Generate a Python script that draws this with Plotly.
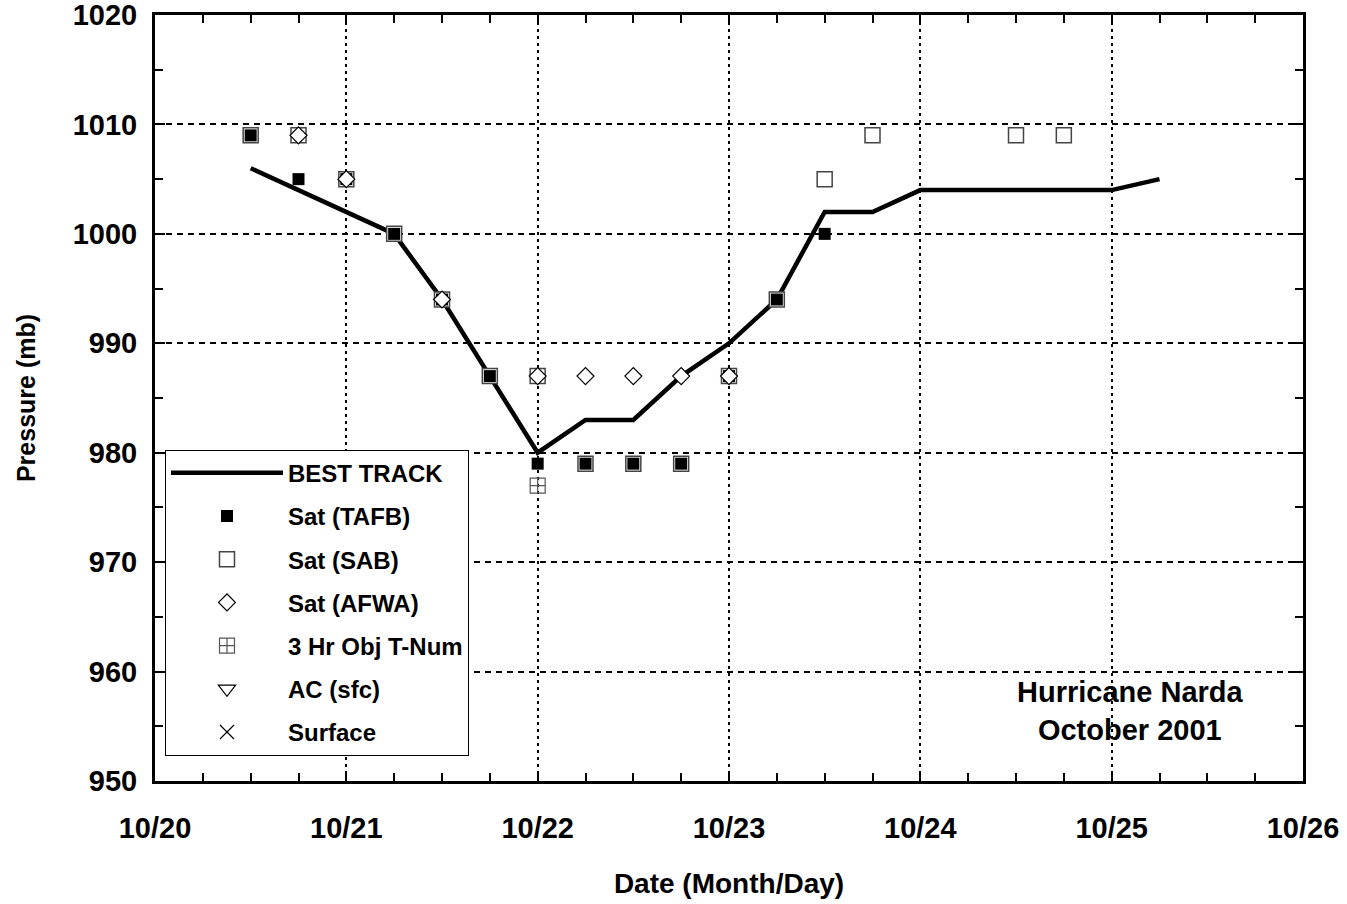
import plotly.graph_objects as go

# ---- data (x = day of October 2001, fractional; y = pressure mb) ----
best_x = [20.5, 20.75, 21.0, 21.25, 21.5, 21.75, 22.0, 22.25, 22.5, 22.75,
          23.0, 23.25, 23.5, 23.75, 24.0, 24.25, 24.5, 24.75, 25.0, 25.25]
best_p = [1006, 1004, 1002, 1000, 994, 987, 980, 983, 983, 987,
          990, 994, 1002, 1002, 1004, 1004, 1004, 1004, 1004, 1005]

tafb_x = [20.5, 20.75, 21.0, 21.25, 21.5, 21.75, 22.0, 22.25, 22.5, 22.75, 23.0, 23.25, 23.5]
tafb_p = [1009, 1005, 1005, 1000, 994, 987, 979, 979, 979, 979, 987, 994, 1000]

sab_x = [20.5, 20.75, 21.0, 21.25, 21.5, 21.75, 22.0, 22.25, 22.5, 22.75,
         23.0, 23.25, 23.5, 23.75, 24.5, 24.75]
sab_p = [1009, 1009, 1005, 1000, 994, 987, 987, 979, 979, 979,
         987, 994, 1005, 1009, 1009, 1009]

afwa_x = [20.75, 21.0, 21.5, 22.0, 22.25, 22.5, 22.75, 23.0]
afwa_p = [1009, 1005, 994, 987, 987, 987, 987, 987]

objt_x = [22.0]
objt_p = [977]

# no observations for these two sources (legend entries only)
ac_x, ac_p = [None], [None]
sfc_x, sfc_p = [None], [None]

tick_vals = [20, 21, 22, 23, 24, 25, 26]
tick_text = ["10/20", "10/21", "10/22", "10/23", "10/24", "10/25", "10/26"]

FONT = "Liberation Sans, Arial, sans-serif"

fig = go.Figure()

fig.add_trace(go.Scatter(x=best_x, y=best_p, mode="lines", name="BEST TRACK",
                         line=dict(color="black", width=4.5),
                         legendrank=1, legendgroup="g1"))
fig.add_trace(go.Scatter(x=sab_x, y=sab_p, mode="markers", name="Sat (SAB)",
                         marker=dict(symbol="square", size=15, color="white",
                                     line=dict(color="#444444", width=1.5)),
                         legendrank=3, legendgroup="g3"))
fig.add_trace(go.Scatter(x=tafb_x, y=tafb_p, mode="markers", name="Sat (TAFB)",
                         marker=dict(symbol="square", size=12, color="black",
                                     line=dict(color="black", width=0)),
                         legendrank=2, legendgroup="g2"))
fig.add_trace(go.Scatter(x=afwa_x, y=afwa_p, mode="markers", name="Sat (AFWA)",
                         marker=dict(symbol="diamond", size=13, color="white",
                                     line=dict(color="black", width=1.2)),
                         legendrank=4, legendgroup="g4"))
fig.add_trace(go.Scatter(x=objt_x, y=objt_p, mode="markers", name="3 Hr Obj T-Num",
                         marker=dict(symbol="square-cross-open", size=15, color="#555555",
                                     line=dict(width=1.2)),
                         legendrank=5, legendgroup="g5"))
fig.add_trace(go.Scatter(x=ac_x, y=ac_p, mode="markers", name="AC (sfc)",
                         marker=dict(symbol="triangle-down-open", size=15, color="black",
                                     line=dict(width=1.2)),
                         legendrank=6, legendgroup="g6"))
fig.add_trace(go.Scatter(x=sfc_x, y=sfc_p, mode="markers", name="Surface",
                         marker=dict(symbol="x-thin-open", size=14, color="black",
                                     line=dict(width=1.2)),
                         legendrank=7, legendgroup="g7"))

fig.update_layout(
    width=1347, height=904,
    margin=dict(l=155, r=44, t=15, b=123, autoexpand=False),
    paper_bgcolor="white", plot_bgcolor="white",
    font=dict(family=FONT, color="black", size=24, weight="bold"),
    showlegend=True,
    legend=dict(x=0.0087, y=0.4325, xanchor="left", yanchor="top",
                bgcolor="white", bordercolor="black", borderwidth=1,
                font=dict(family=FONT, size=24, color="black", weight="bold"),
                tracegroupgap=9, itemwidth=112,
                traceorder="grouped"),
    annotations=[dict(
        text="Hurricane Narda<br>October 2001", xref="paper", yref="paper",
        x=0.85, y=0.0914, xanchor="center", yanchor="middle", showarrow=False,
        font=dict(family=FONT, size=29, color="black", weight="bold"),
    )],
)

fig.update_xaxes(
    range=[20, 26], tickvals=tick_vals, ticktext=tick_text, automargin=False,
    showline=True, linecolor="black", linewidth=3, mirror="ticks",
    ticks="inside", ticklen=10, tickwidth=2, tickcolor="black",
    ticklabelstandoff=19, ticklabeloverflow="allow",
    tickfont=dict(family=FONT, size=29, color="black", weight="bold"),
    showgrid=True, gridcolor="black", gridwidth=2, griddash="3px,4px",
    minor=dict(dtick=0.25, ticks="inside", ticklen=8, tickwidth=1.5,
               tickcolor="black", showgrid=False),
    zeroline=False,
    title=dict(text="Date (Month/Day)", standoff=31,
               font=dict(family=FONT, size=28, color="black", weight="bold")),
)
fig.update_yaxes(
    range=[950, 1020], dtick=10, automargin=False,
    showline=True, linecolor="black", linewidth=3, mirror="ticks",
    ticks="inside", ticklen=10, tickwidth=2, tickcolor="black",
    ticklabelstandoff=9, ticklabeloverflow="allow",
    tickfont=dict(family=FONT, size=29, color="black", weight="bold"),
    showgrid=True, gridcolor="black", gridwidth=1.5, griddash="6px,5px",
    minor=dict(dtick=5, ticks="inside", ticklen=8, tickwidth=1.5,
               tickcolor="black", showgrid=False),
    zeroline=False,
    title=dict(text="Pressure (mb)", standoff=30,
               font=dict(family=FONT, size=25, color="black", weight="bold")),
)

fig.write_html("out.html",
               config={"displayModeBar": False},
               post_script="document.body.style.margin='0';")
